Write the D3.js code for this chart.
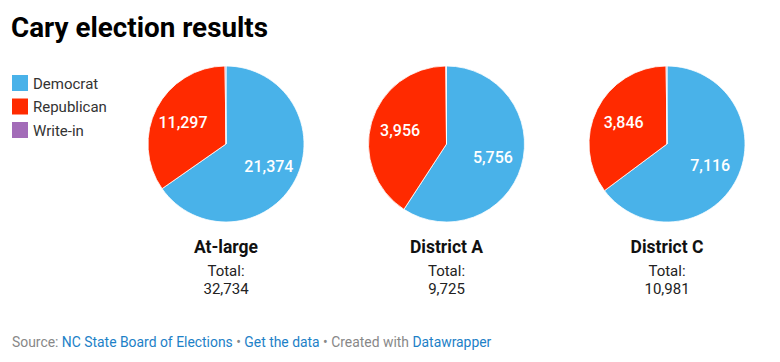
<!DOCTYPE html>
<html lang="en">
<head>
    <meta charset="UTF-8">
    <title>Cary election results</title>
    <script src="https://d3js.org/d3.v7.min.js"></script>
    <style>
        body { margin: 0; background: #fff; font-family: Roboto, "Noto Sans", sans-serif; }
        #chart { width: 780px; height: 362px; }
    </style>
</head>
<body>
    <div id="chart"></div>
    <script>
        // Data
        const parties = ["Democrat", "Republican", "Write-in"];
        const partyColors = ["#49b2e9", "#ff2a00", "#a36cb8"];
        const races = ["At-large", "District A", "District C"];
        const democrat = [21374, 5756, 7116];
        const republican = [11297, 3956, 3846];
        const writeIn = [63, 13, 19];
        const totals = [32734, 9725, 10981];

        const width = 780, height = 362;
        const svg = d3.select("#chart").append("svg")
            .attr("width", width)
            .attr("height", height);

        // Title
        svg.append("text")
            .attr("x", 11).attr("y", 37)
            .attr("font-size", "27.8px")
            .attr("font-weight", "bold")
            .attr("fill", "#000")
            .text("Cary election results");

        // Legend
        const color = d3.scaleOrdinal().domain(parties).range(partyColors);
        const legend = svg.append("g").attr("transform", "translate(12,75)");
        parties.forEach((p, i) => {
            const g = legend.append("g").attr("transform", `translate(0,${i * 23.5})`);
            g.append("rect").attr("width", 16).attr("height", 16).attr("fill", color(p));
            g.append("text")
                .attr("x", 21).attr("y", 13.5)
                .attr("font-size", "15px")
                .attr("fill", "#333")
                .text(p);
        });

        // Pies
        const centers = d3.scalePoint().domain(races).range([226, 667]);
        const radius = 78;
        const pie = d3.pie().sort(null).value(d => d.value);
        const arc = d3.arc().innerRadius(0).outerRadius(radius);
        const labelArc = d3.arc().innerRadius(radius * 0.62).outerRadius(radius * 0.62);
        const fmt = d3.format(",");

        races.forEach((race, i) => {
            const data = [
                { party: "Democrat", value: democrat[i] },
                { party: "Republican", value: republican[i] },
                { party: "Write-in", value: writeIn[i] }
            ];
            const g = svg.append("g").attr("transform", `translate(${centers(race)},144)`);
            const arcs = pie(data);
            g.selectAll("path").data(arcs).join("path")
                .attr("d", arc)
                .attr("fill", d => color(d.data.party))
                .attr("stroke", "#fff")
                .attr("stroke-width", 0.8);
            g.selectAll("text.val").data(arcs.filter(d => d.data.party !== "Write-in")).join("text")
                .attr("class", "val")
                .attr("transform", d => `translate(${labelArc.centroid(d)})`)
                .attr("text-anchor", "middle")
                .attr("dy", "0.35em")
                .attr("font-size", "16px")
                .attr("font-weight", 500)
                .attr("fill", "#fff")
                .text(d => fmt(d.data.value));

            const lab = svg.append("g").attr("transform", `translate(${centers(race)},0)`);
            lab.append("text")
                .attr("y", 253).attr("text-anchor", "middle")
                .attr("font-size", "17.5px").attr("font-weight", "bold").attr("fill", "#111")
                .text(race);
            lab.append("text")
                .attr("y", 276).attr("text-anchor", "middle")
                .attr("font-size", "15px").attr("fill", "#222")
                .text("Total:");
            lab.append("text")
                .attr("y", 294).attr("text-anchor", "middle")
                .attr("font-size", "15px").attr("fill", "#222")
                .text(fmt(totals[i]));
        });

        // Footer
        const foot = svg.append("text")
            .attr("x", 12).attr("y", 347)
            .attr("font-size", "13.9px")
            .attr("fill", "#888");
        foot.append("tspan").text("Source: ");
        foot.append("tspan").attr("fill", "#1d81c7").text("NC State Board of Elections");
        foot.append("tspan").text(" • ");
        foot.append("tspan").attr("fill", "#1d81c7").text("Get the data");
        foot.append("tspan").text(" • Created with ");
        foot.append("tspan").attr("fill", "#1d81c7").text("Datawrapper");
    </script>
</body>
</html>
